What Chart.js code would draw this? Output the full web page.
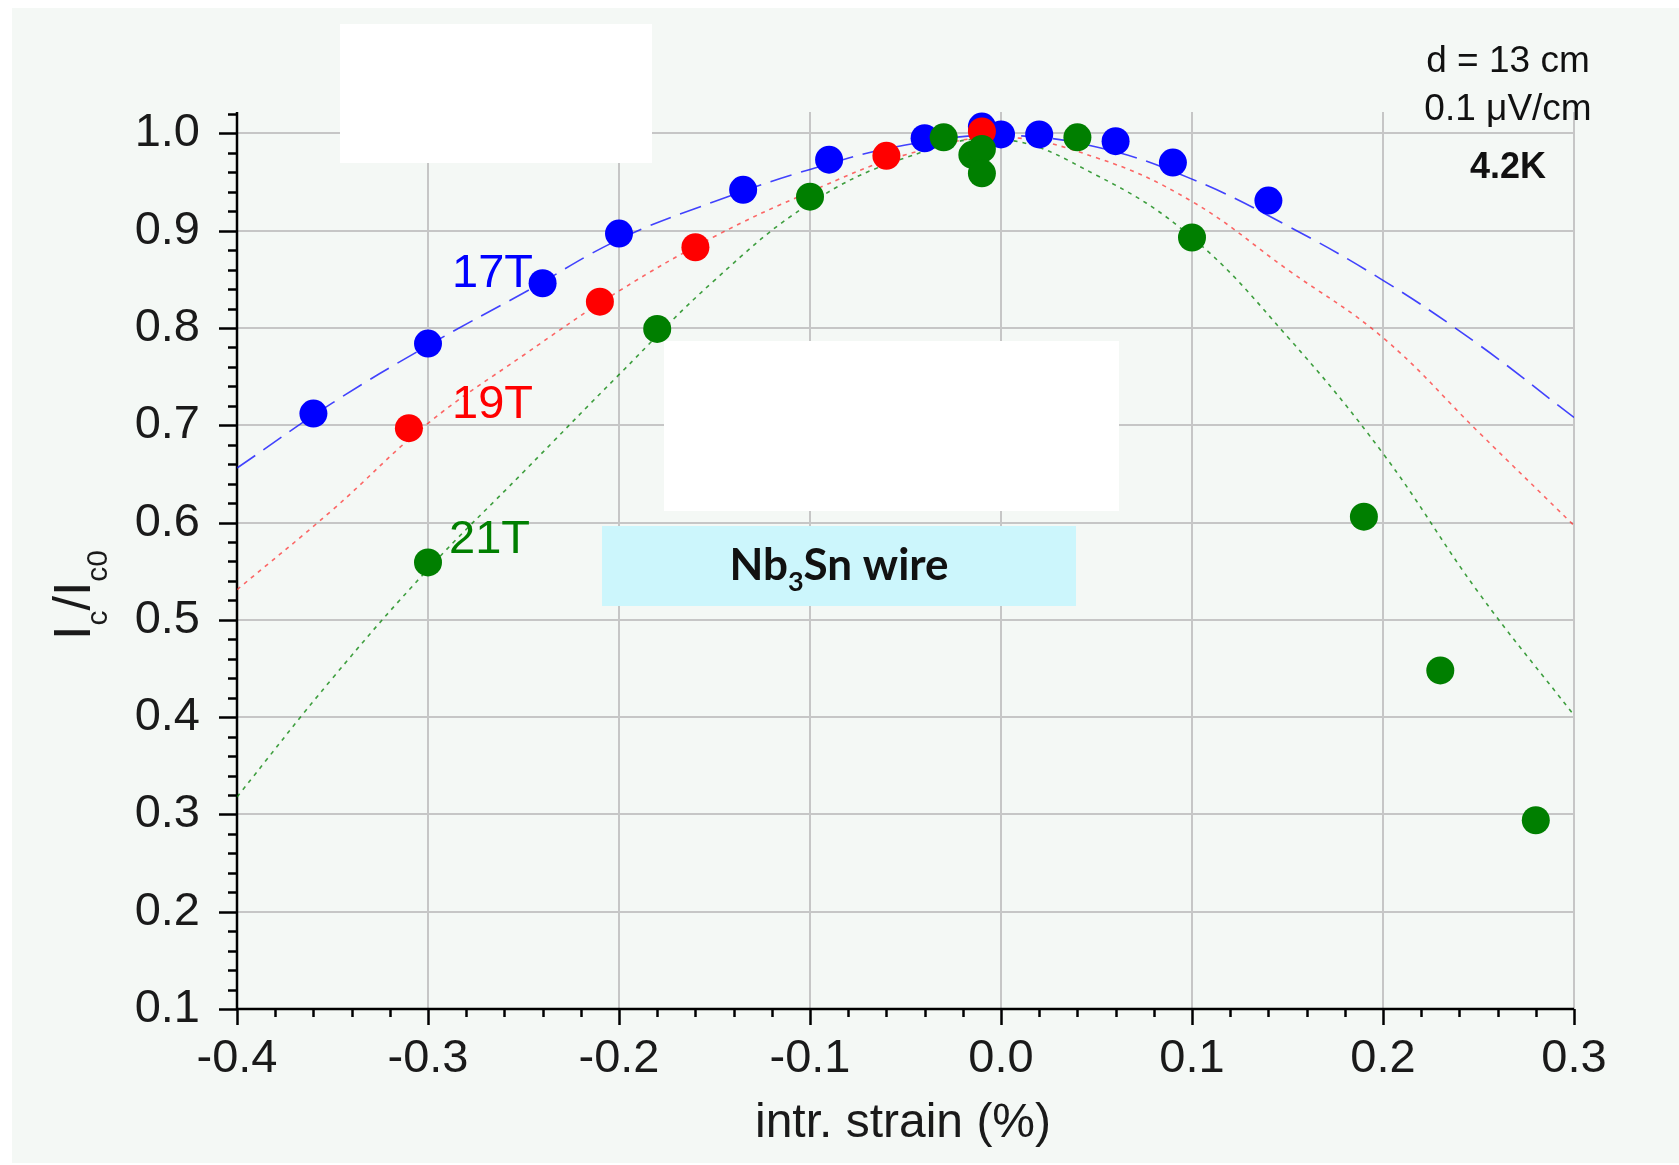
<!DOCTYPE html>
<html>
<head>
<meta charset="utf-8">
<title>Ic/Ic0 vs intrinsic strain</title>
<script src="https://cdn.jsdelivr.net/npm/chart.js@4.4.0/dist/chart.umd.min.js"></script>
<style>
  html, body { margin: 0; padding: 0; background: #fff; }
  #wrap { width: 1679px; height: 1165px; }
</style>
</head>
<body>
<div id="wrap"><canvas id="strain" width="1679" height="1165"></canvas></div>
<script>
// axis ticks
var xTicks = [-0.4, -0.3, -0.2, -0.1, 0.0, 0.1, 0.2, 0.3];
var yTicks = [0.1, 0.2, 0.3, 0.4, 0.5, 0.6, 0.7, 0.8, 0.9, 1.0];

// measured points, 17 T
var strain17 = [-0.36, -0.30, -0.24, -0.20, -0.135, -0.09, -0.04, -0.01, 0.00, 0.02, 0.06, 0.09, 0.14];
var ic17     = [0.712, 0.784, 0.846, 0.897, 0.942, 0.973, 0.995, 1.007, 0.999, 0.999, 0.992, 0.970, 0.931];
// 19 T
var strain19 = [-0.31, -0.21, -0.16, -0.06, -0.01];
var ic19     = [0.697, 0.827, 0.883, 0.977, 1.002];
// 21 T
var strain21 = [-0.30, -0.18, -0.10, -0.03, -0.015, -0.01, -0.01, 0.04, 0.10, 0.19, 0.23, 0.28];
var ic21     = [0.559, 0.799, 0.935, 0.996, 0.978, 0.984, 0.959, 0.996, 0.893, 0.606, 0.448, 0.294];

// fitted curves
var fitStrain = [-0.40, -0.35, -0.30, -0.25, -0.20, -0.15, -0.10, -0.05, 0.00, 0.05, 0.10, 0.15, 0.20, 0.25, 0.30];
var fit17     = [0.656, 0.723, 0.782, 0.836, 0.891, 0.930, 0.963, 0.988, 0.998, 0.986, 0.953, 0.905, 0.849, 0.783, 0.708];
var fit19     = [0.531, 0.613, 0.702, 0.772, 0.838, 0.894, 0.940, 0.978, 0.996, 0.975, 0.930, 0.860, 0.790, 0.693, 0.597];
var fit21     = [0.318, 0.440, 0.552, 0.652, 0.752, 0.849, 0.928, 0.975, 0.994, 0.957, 0.893, 0.791, 0.671, 0.528, 0.402];

var BLUE = '#0000ff', RED = '#ff0000', GREEN = '#007f00';

function pts(xs, ys) {
    return xs.map(function (x, i) { return { x: x, y: ys[i] }; });
}

var decor = {
    id: 'decor',
    beforeDraw: function (chart) {
        var c = chart.ctx;
        c.save();
        c.fillStyle = '#fff';
        c.fillRect(0, 0, chart.width, chart.height);
        c.fillStyle = '#f4f8f5';
        c.fillRect(12, 8, chart.width - 12, chart.height - 10);
        c.restore();
    },
    beforeDatasetsDraw: function (chart) {
        var c = chart.ctx, xs = chart.scales.x, ys = chart.scales.y, ca = chart.chartArea;
        c.save();
        // blank patches
        c.fillStyle = '#fff';
        c.fillRect(340, 24, 312, 139);
        c.fillRect(664, 341, 455, 170);
        // material label box
        c.fillStyle = '#ccf6fc';
        c.fillRect(602, 526, 474, 80);

        // axis lines
        c.strokeStyle = '#000';
        c.lineWidth = 2.5;
        c.beginPath();
        c.moveTo(ca.left, ca.top);
        c.lineTo(ca.left, ca.bottom);
        c.lineTo(ca.right, ca.bottom);
        c.stroke();

        // y ticks, major every 0.1, minor every 0.02
        var i, v, p, major;
        for (i = 0; i <= 46; i++) {
            v = 0.1 + i * 0.02;
            if (v > ys.max + 1e-9) break;
            p = Math.round(ys.getPixelForValue(v)) + 0.5;
            major = i % 5 === 0;
            c.beginPath();
            c.moveTo(ca.left - (major ? 18 : 9), p);
            c.lineTo(ca.left, p);
            c.stroke();
        }
        // x ticks
        for (i = 0; i <= 35; i++) {
            v = -0.4 + i * 0.02;
            p = Math.round(xs.getPixelForValue(v)) + 0.5;
            major = i % 5 === 0;
            c.beginPath();
            c.moveTo(p, ca.bottom);
            c.lineTo(p, ca.bottom + (major ? 16 : 8));
            c.stroke();
        }
        c.restore();
    },
    afterDraw: function (chart) {
        var c = chart.ctx;
        c.save();
        c.textBaseline = 'alphabetic';

        // Nb3Sn wire
        var big = 'bold 44px Lato', sub = 'bold 27px Lato';
        c.font = big;
        var w1 = c.measureText('Nb').width, w3 = c.measureText('Sn wire').width;
        c.font = sub;
        var w2 = c.measureText('3').width;
        var x0 = 839 - (w1 + w2 + w3) / 2;
        c.fillStyle = '#111';
        c.textAlign = 'left';
        c.font = big; c.fillText('Nb', x0, 580);
        c.font = sub; c.fillText('3', x0 + w1, 591);
        c.font = big; c.fillText('Sn wire', x0 + w1 + w2, 580);

        // conditions
        c.textAlign = 'center';
        c.fillStyle = '#111';
        c.font = '37px "Liberation Sans"';
        c.fillText('d = 13 cm', 1508, 72);
        c.fillText('0.1 \u03bcV/cm', 1508, 120);
        c.font = 'bold 36px "Liberation Sans"';
        c.fillText('4.2K', 1508, 178);

        // field labels
        c.textAlign = 'left';
        c.font = '47px "Liberation Sans"';
        c.fillStyle = BLUE;  c.fillText('17T', 452, 287);
        c.fillStyle = RED;   c.fillText('19T', 452, 418);
        c.fillStyle = GREEN; c.fillText('21T', 449, 553);

        // x title
        c.textAlign = 'center';
        c.fillStyle = '#1a1a1a';
        c.font = '48px "Liberation Sans"';
        c.fillText('intr. strain (%)', 903, 1137);

        // y title  I_c / I_c0
        c.translate(90, 640);
        c.rotate(-Math.PI / 2);
        c.textAlign = 'left';
        var parts = [['I', '52px "Liberation Sans"', 0], ['c', '30px "Liberation Sans"', 17],
                     ['/', '52px "Liberation Sans"', 0], ['I', '52px "Liberation Sans"', 0],
                     ['c0', '30px "Liberation Sans"', 17]];
        var px = 0;
        parts.forEach(function (p) {
            c.font = p[1];
            c.fillText(p[0], px, p[2]);
            px += c.measureText(p[0]).width;
        });
        c.restore();
    }
};

function curve(data, color, dash, order) {
    return {
        data: data, showLine: true, pointRadius: 0, borderColor: color,
        borderWidth: 1.6, borderDash: dash, tension: 0.4, order: order
    };
}
function marks(data, color, order) {
    return {
        data: data, showLine: false, pointRadius: 14, pointHoverRadius: 14,
        backgroundColor: color, borderColor: color, borderWidth: 0, order: order
    };
}

var tickFont = { family: 'Liberation Sans', size: 47 };

new Chart(document.getElementById('strain').getContext('2d'), {
    type: 'scatter',
    data: {
        datasets: [
            marks(pts(strain21, ic21), GREEN, 0),
            marks(pts(strain19, ic19), RED, 1),
            marks(pts(strain17, ic17), BLUE, 2),
            curve(pts(fitStrain, fit21), 'rgba(0,128,0,0.75)', [4, 5], 3),
            curve(pts(fitStrain, fit19), 'rgba(255,40,40,0.7)', [4, 5], 4),
            curve(pts(fitStrain, fit17), 'rgba(20,20,255,0.8)', [22, 10], 5)
        ]
    },
    options: {
        responsive: false,
        animation: false,
        events: [],
        layout: { padding: { top: 112, right: 105, left: 0, bottom: 0 } },
        plugins: { legend: { display: false }, tooltip: { enabled: false } },
        scales: {
            x: {
                type: 'linear', min: -0.4, max: 0.3,
                afterBuildTicks: function (s) { s.ticks = xTicks.map(function (v) { return { value: v }; }); },
                afterFit: function (s) { s.height = 156; },
                grid: { color: '#c6c6c6', lineWidth: 2, drawTicks: false },
                border: { display: false },
                ticks: {
                    padding: 22, color: '#1a1a1a', font: tickFont, maxRotation: 0,
                    callback: function (v) { return v.toFixed(1); }
                }
            },
            y: {
                type: 'linear', min: 0.1, max: 1.022,
                afterBuildTicks: function (s) { s.ticks = yTicks.map(function (v) { return { value: v }; }); },
                afterFit: function (s) { s.width = 237; },
                grid: { color: '#c6c6c6', lineWidth: 2, drawTicks: false },
                border: { display: false },
                ticks: {
                    padding: 37, color: '#1a1a1a', font: tickFont,
                    callback: function (v) { return v.toFixed(1); }
                }
            }
        }
    },
    plugins: [decor]
});
</script>
</body>
</html>
